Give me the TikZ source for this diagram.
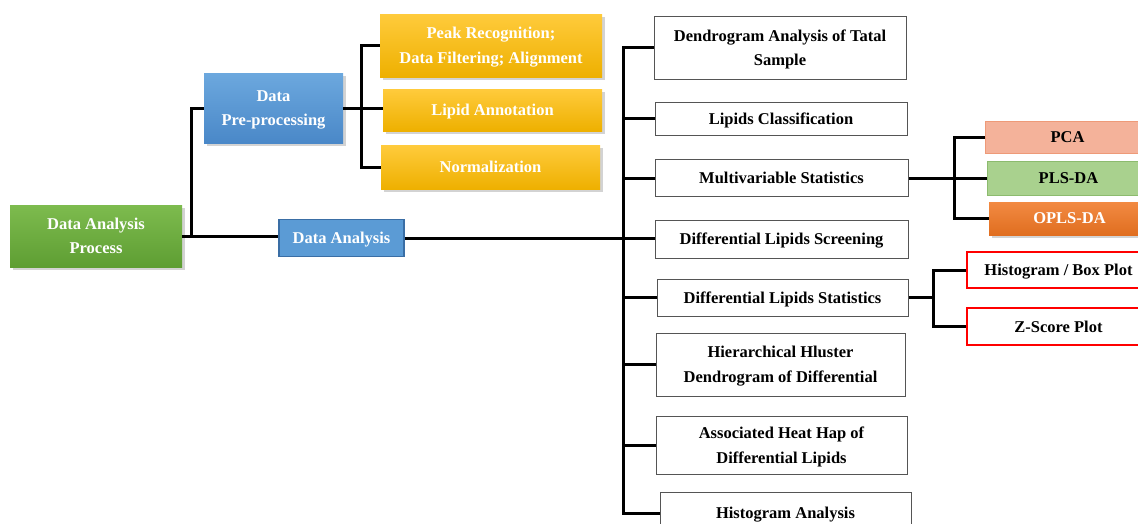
\documentclass[tikz,border=0pt]{standalone}
\usepackage{fontspec}
\setmainfont{Liberation Serif}
\usetikzlibrary{shadows}
\definecolor{yelT}{HTML}{FFCB3C}
\definecolor{yelB}{HTML}{EEB000}
\definecolor{grnT}{HTML}{7DBB4E}
\definecolor{grnB}{HTML}{5E9E33}
\definecolor{bluT}{HTML}{6CA8DE}
\definecolor{bluB}{HTML}{4A88C8}
\definecolor{bluF}{HTML}{5B9BD5}
\definecolor{bluD}{HTML}{3A6EA5}
\definecolor{pcaF}{HTML}{F4B29A}
\definecolor{pcaD}{HTML}{EE9A78}
\definecolor{plsF}{HTML}{A9D18E}
\definecolor{plsD}{HTML}{8CBB6E}
\definecolor{opT}{HTML}{F28A42}
\definecolor{opB}{HTML}{E06E20}
\definecolor{boxD}{HTML}{555555}
\tikzset{
  x=1pt, y=-1pt,
  base/.style={inner sep=0pt, align=center, text depth=0pt, font=\fontsize{16.5}{24.5}\selectfont\bfseries},
  shad/.style={drop shadow={opacity=0.35, shadow xshift=2.5pt, shadow yshift=-2.5pt}},
  yelbox/.style={base, shad, top color=yelT, bottom color=yelB, text=white},
  grnbox/.style={base, shad, top color=grnT, bottom color=grnB, text=white},
  blubox/.style={base, shad, top color=bluT, bottom color=bluB, text=white},
  dabox/.style={base, fill=bluF, draw=bluD, line width=1.5pt, text=white},
  whitebox/.style={base, draw=boxD, line width=1pt, fill=white, text=black},
  pcabox/.style={base, fill=pcaF, draw=pcaD, line width=1pt, text=black},
  plsbox/.style={base, fill=plsF, draw=plsD, line width=1pt, text=black},
  opbox/.style={base, shad, top color=opT, bottom color=opB, text=white},
  redbox/.style={base, draw=red, line width=2pt, fill=white, text=black},
  conn/.style={draw=black, line width=3pt}
}
\begin{document}
\begin{tikzpicture}
\useasboundingbox (0,0) rectangle (1138,523);
% left part
\node[grnbox, minimum width=172pt, minimum height=62pt] (proc) at (96,236) {Data Analysis\\Process};
\node[blubox, minimum width=139pt, minimum height=70pt] (pre) at (273.5,108) {Data\\Pre-processing};
\node[dabox, minimum width=125pt, minimum height=37pt] (da) at (341.5,238) {Data Analysis};
\node[yelbox, minimum width=222pt, minimum height=63pt] (peak) at (491,45.5) {Peak Recognition;\\Data Filtering; Alignment};
\node[yelbox, minimum width=219pt, minimum height=42pt] (lipann) at (492.5,110) {Lipid Annotation};
\node[yelbox, minimum width=219pt, minimum height=44pt] (norm) at (490.5,167) {Normalization};
% white boxes
\node[whitebox, minimum width=252pt, minimum height=63pt] (w1) at (780,47.5) {Dendrogram Analysis of Tatal\\Sample};
\node[whitebox, minimum width=252pt, minimum height=33pt] (w2) at (781,118.5) {Lipids Classification};
\node[whitebox, minimum width=253pt, minimum height=37pt] (w3) at (781.5,178) {Multivariable Statistics};
\node[whitebox, minimum width=253pt, minimum height=38pt] (w4) at (781.5,239) {Differential Lipids Screening};
\node[whitebox, minimum width=251pt, minimum height=37pt] (w5) at (782.5,297.5) {Differential Lipids Statistics};
\node[whitebox, minimum width=249pt, minimum height=63pt] (w6) at (780.5,364.5) {Hierarchical Hluster\\Dendrogram of Differential};
\node[whitebox, minimum width=251pt, minimum height=58pt] (w7) at (781.5,445) {Associated Heat Hap of\\Differential Lipids};
\node[whitebox, minimum width=251pt, minimum height=42pt] (w8) at (785.5,513) {Histogram Analysis};
% right boxes
\node[pcabox, minimum width=165pt, minimum height=32pt] (pca) at (1067.5,137) {PCA};
\node[plsbox, minimum width=163pt, minimum height=34pt] (pls) at (1068.5,178) {PLS-DA};
\node[opbox, minimum width=161pt, minimum height=33pt] (opls) at (1069.5,218.5) {OPLS-DA};
\node[redbox, minimum width=183pt, minimum height=36pt] (hist) at (1058.5,270) {Histogram / Box Plot};
\node[redbox, minimum width=183pt, minimum height=37pt] (zsc) at (1058.5,326.5) {Z-Score Plot};
% junction coordinates
\coordinate (j1) at (191,236);
\coordinate (j2) at (361,108);
\coordinate (trk) at (623,238);
\coordinate (j3) at (954,178);
\coordinate (j4) at (933,297.5);
% connectors
\draw[conn] (proc.east) -- (proc.east -| da.west);
\draw[conn] (j1) |- (pre.west);
\draw[conn] (pre.east) -- (pre.east -| lipann.west);
\draw[conn] (peak.west) -| (j2) |- (norm.west);
\draw[conn] (da.east) -- (da.east -| w4.west);
\draw[conn] (w1.west) -| (trk) |- (w8.west);
\draw[conn] (w2.west) -- (w2.west -| trk);
\draw[conn] (w3.west) -- (w3.west -| trk);
\draw[conn] (w5.west) -- (w5.west -| trk);
\draw[conn] (w6.west) -- (w6.west -| trk);
\draw[conn] (w7.west) -- (w7.west -| trk);
\draw[conn] (w3.east) -- (pls.west);
\draw[conn] (pca.west) -| (j3) |- (opls.west);
\draw[conn] (w5.east) -- (j4);
\draw[conn] (hist.west) -| (j4) |- (zsc.west);
\end{tikzpicture}
\end{document}
